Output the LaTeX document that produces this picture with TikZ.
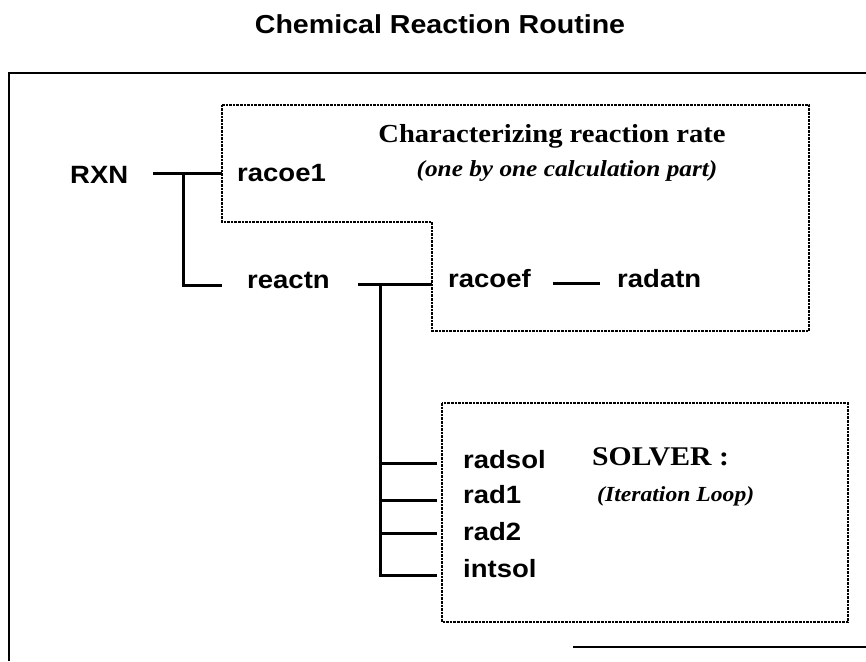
\documentclass[tikz,border=0pt]{standalone}
\usepackage{fontspec}
\newfontfamily\sansw[FakeStretch=1.1]{Liberation Sans}
\newfontfamily\serifw[FakeStretch=1.1]{Liberation Serif}
\begin{document}
\begin{tikzpicture}[x=1pt,y=-1pt,
  frameline/.style={line width=1.5pt},
  wire/.style={line width=3pt, line join=miter},
  dotbox/.style={line width=2.2pt, dash pattern=on 2.6pt off 1pt, line join=miter},
  lbl/.style={inner sep=0pt, font=\sansw\bfseries\fontsize{25}{29}\selectfont},
  titlefont/.style={inner sep=0pt, font=\sansw\bfseries\fontsize{26}{30}\selectfont},
  head/.style={inner sep=0pt, font=\serifw\bfseries\fontsize{26}{30}\selectfont},
  note/.style={inner sep=0pt, font=\serifw\bfseries\itshape\fontsize{23}{27}\selectfont},
  solverfont/.style={inner sep=0pt, font=\serifw\bfseries\fontsize{27}{31}\selectfont},
  note2/.style={inner sep=0pt, font=\serifw\bfseries\itshape\fontsize{21.5}{25}\selectfont}]
\useasboundingbox (0,0) rectangle (866,661);

% title and page frame
\node[titlefont, anchor=base] (title) at (440,34) {Chemical Reaction Routine};
\draw[frameline] (9,661) -- (9,73) -- (866,73);
\draw[frameline] (573,647) -- (866,647);

% dotted groups
\draw[dotbox] (222,105) -- (809,105) -- (809,331) -- (432,331) -- (432,222) -- (222,222) -- cycle;
\draw[dotbox] (442,403) rectangle (848,622);

% routine names
\node[lbl, anchor=base west] (rxn) at (70,183) {RXN};
\node[lbl, anchor=base west] (racoe1) at (237,181) {racoe1};
\node[lbl, anchor=base west] (reactn) at (247,288) {reactn};
\node[lbl, anchor=base west] (racoef) at (448,287) {racoef};
\node[lbl, anchor=base west] (radatn) at (617,287) {radatn};
\node[lbl, anchor=base west] (radsol) at (463,468) {radsol};
\node[lbl, anchor=base west] (rad1) at (463,503) {rad1};
\node[lbl, anchor=base west] (rad2) at (463,540) {rad2};
\node[lbl, anchor=base west] (intsol) at (463,577) {intsol};

% group captions
\node[head, anchor=base] (charrate) at (552,142) {Characterizing reaction rate};
\node[note, anchor=base] (onebyone) at (567,176) {(one by one calculation part)};
\node[solverfont, anchor=base west] (solver) at (592,465) {SOLVER :};
\node[note2, anchor=base west] (iter) at (597,501) {(Iteration Loop)};

% call tree junctions
\coordinate (rxnout) at (153,173);
\coordinate (fork1) at (183,173);
\coordinate (racoe1in) at (222,173);
\coordinate (fork1end) at (183,285);
\coordinate (reactnin) at (222,285);
\coordinate (reactnout) at (358,284);
\coordinate (fork2) at (380,284);
\coordinate (racoefin) at (432,284);
\coordinate (racoefout) at (553,283);
\coordinate (radatnin) at (600,283);
\coordinate (fork2end) at (380,575);
\coordinate (b1) at (380,463);
\coordinate (b2) at (380,500);
\coordinate (b3) at (380,533);
\coordinate (radsolin) at (437,463);
\coordinate (rad1in) at (437,500);
\coordinate (rad2in) at (437,533);
\coordinate (intsolin) at (437,575);

\draw[wire] (rxnout) -- (racoe1in);
\draw[wire] (fork1) -- (fork1end) -- (reactnin);
\draw[wire] (reactnout) -- (racoefin);
\draw[wire] (fork2) -- (fork2end) -- (intsolin);
\draw[wire] (b1) -- (radsolin);
\draw[wire] (b2) -- (rad1in);
\draw[wire] (b3) -- (rad2in);
\draw[wire] (racoefout) -- (radatnin);
\end{tikzpicture}
\end{document}
